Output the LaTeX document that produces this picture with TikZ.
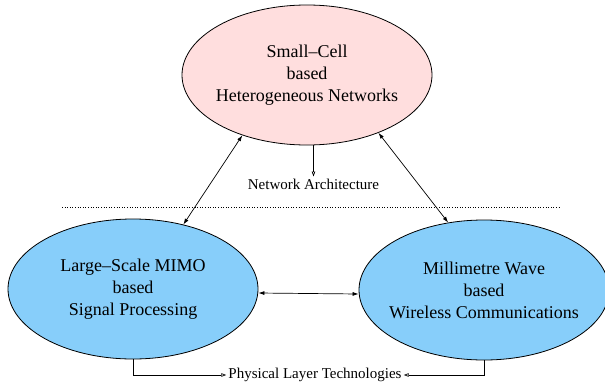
\documentclass[tikz,border=0pt]{standalone}
\usepackage{fontspec}
\setmainfont{Liberation Serif}
\usetikzlibrary{shapes.geometric,arrows.meta}
\definecolor{cellpink}{RGB}{255,222,222}
\definecolor{mimoblue}{RGB}{135,206,250}
\tikzset{
  techblob/.style={draw, ellipse, line width=0.8pt, minimum width=250pt, minimum height=140pt, inner sep=0pt},
  bigtext/.style={align=center, font=\fontsize{18}{22}\selectfont},
  smalltext/.style={font=\fontsize{15}{18}\selectfont, inner sep=2pt},
  both/.style={{Latex[length=6pt,width=4pt]}-{Latex[length=6pt,width=4pt]}, line width=0.7pt},
  openarr/.style={-{Triangle[open,length=5pt,width=3.5pt]}, line width=0.7pt}
}
\begin{document}
\begin{tikzpicture}[x=1pt, y=-1pt]
            \useasboundingbox (0,0) rectangle (605,383);
            \node[techblob, fill=cellpink] (hetnet) at (307,75) {};
            \node[techblob, fill=mimoblue] (mimo) at (133,289) {};
            \node[techblob, fill=mimoblue] (mmwave) at (484,290) {};
            \node[bigtext] (hetnettxt) at (hetnet) {Small--Cell\\based\\Heterogeneous Networks};
            \node[bigtext] (mimotxt) at (mimo) {Large--Scale MIMO\\based\\Signal Processing};
            \node[bigtext] (mmwavetxt) at (mmwave) {Millimetre Wave\\based\\Wireless Communications};
            \node[smalltext] (netarch) at (313.5,184) {Network Architecture};
            \node[smalltext] (phylayer) at (315,375) {Physical Layer Technologies};
            \coordinate (dotl) at (62,207);
            \coordinate (dotr) at (559,207);
            \draw[dotted, line width=0.6pt] (dotl) -- (dotr);
            \draw[openarr] (netarch.north |- hetnet.south) -- (netarch.north);
            \draw[both] (hetnet.223) -- (mimo.52);
            \draw[both] (hetnet.321) -- (mmwave.118);
            \draw[both] ([yshift=-4pt]mimo.east) -- ([yshift=-4pt]mmwave.west);
            \draw[openarr] (mimo.south) |- (phylayer.west);
            \draw[openarr] (mmwave.south) |- (phylayer.east);
        \end{tikzpicture}
\end{document}
